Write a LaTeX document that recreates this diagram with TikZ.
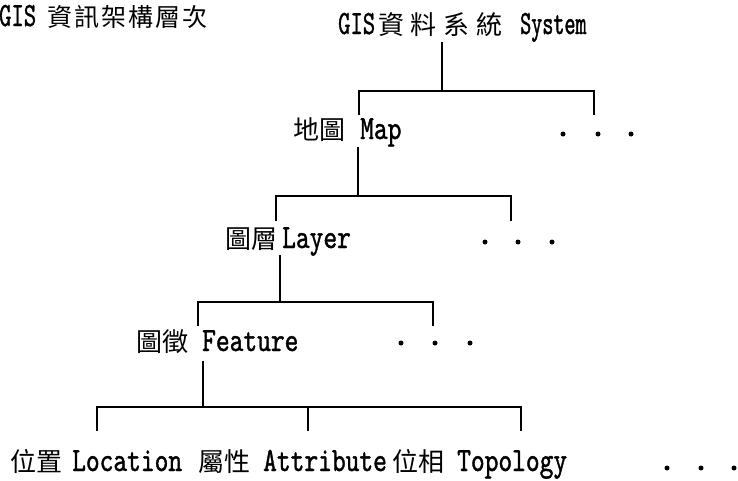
\documentclass[tikz,border=0pt]{standalone}
\usepackage{fontspec}
\newfontfamily\cjk{Noto Sans CJK TC}
\newfontfamily\cjkwide[LetterSpace=8]{Noto Sans CJK TC}
\newfontfamily\cjkwider[LetterSpace=26]{Noto Sans CJK TC}
\newfontfamily\lat[Extension=.otf, FakeStretch=0.77, FakeBold=1.1]{lmmono10-regular}
\newfontfamily\latmid[Extension=.otf, FakeStretch=0.69, FakeBold=1.1]{lmmono10-regular}
\newfontfamily\latnarrow[Extension=.otf, FakeStretch=0.62, FakeBold=1.1]{lmmono10-regular}
\tikzset{
  zh/.style={anchor=base west, inner sep=0pt, font=\cjk\fontsize{26}{26}\selectfont},
  en/.style={anchor=base west, inner sep=0pt, font=\lat\fontsize{34}{34}\selectfont},
  link/.style={line width=1.4pt, line cap=rect, line join=miter},
  dot/.style={circle, fill=black, inner sep=0pt, minimum size=5pt}
}
\begin{document}
\begin{tikzpicture}[x=1pt, y=-1pt]
\useasboundingbox (0,0) rectangle (738,480);

% heading
\node[en, font=\latmid\fontsize{34}{34}\selectfont] (title-en) at (-1,26) {GIS};
\node[zh, font=\cjkwide\fontsize{25}{25}\selectfont] (title-zh) at (47,26) {資訊架構層次};

% level 0: system
\node[en, font=\latmid\fontsize{34}{34}\selectfont] (sys-gis) at (338,34) {GIS};
\node[zh, font=\cjkwider\fontsize{26}{26}\selectfont] (sys-zh) at (378,34) {資料系統};
\node[en, font=\latnarrow\fontsize{34}{34}\selectfont] (sys-en) at (520,34) {System};

% level 1: map
\node[zh] (map-zh) at (293,139) {地圖};
\node[en] (map-en) at (360,139) {Map};
\node[dot] (map-d1) at (563,134) {};
\node[dot] (map-d2) at (598,134) {};
\node[dot] (map-d3) at (631,134) {};

% level 2: layer
\node[zh] (lay-zh) at (225,248) {圖層};
\node[en] (lay-en) at (282,248) {Layer};
\node[dot] (lay-d1) at (485,242) {};
\node[dot] (lay-d2) at (518,242) {};
\node[dot] (lay-d3) at (552,242) {};

% level 3: feature
\node[zh] (fea-zh) at (136,351) {圖徵};
\node[en] (fea-en) at (202,351) {Feature};
\node[dot] (fea-d1) at (401,343) {};
\node[dot] (fea-d2) at (435,343) {};
\node[dot] (fea-d3) at (470,343) {};

% level 4: feature components
\node[zh] (loc-zh) at (10,471) {位置};
\node[en] (loc-en) at (72,471) {Location};
\node[zh] (att-zh) at (198,471) {屬性};
\node[en] (att-en) at (263,471) {Attribute};
\node[zh] (top-zh) at (392,471) {位相};
\node[en] (top-en) at (457,471) {Topology};
\node[dot] (cmp-d1) at (667,468) {};
\node[dot] (cmp-d2) at (701,468) {};
\node[dot] (cmp-d3) at (734,468) {};

% branch points
\coordinate (sys-foot) at (442,43);
\coordinate (sys-fork) at (442,91);
\coordinate (sys-l)    at (359,91);
\coordinate (sys-r)    at (594,91);
\coordinate (map-top)  at (359,114);
\coordinate (more1-top) at (594,114);

\coordinate (map-foot) at (358,148);
\coordinate (map-fork) at (358,196);
\coordinate (map-l)    at (276,196);
\coordinate (map-r)    at (511,196);
\coordinate (lay-top)  at (276,220);
\coordinate (more2-top) at (511,220);

\coordinate (lay-foot) at (280,256);
\coordinate (lay-fork) at (280,302);
\coordinate (lay-l)    at (198,302);
\coordinate (lay-r)    at (433,302);
\coordinate (fea-top)  at (198,325);
\coordinate (more3-top) at (433,325);

\coordinate (fea-foot) at (203,362);
\coordinate (fea-fork) at (203,407);
\coordinate (fea-l)    at (97,407);
\coordinate (fea-m)    at (308,407);
\coordinate (fea-r)    at (521,407);
\coordinate (loc-top)  at (97,430);
\coordinate (att-top)  at (308,430);
\coordinate (top-top)  at (521,430);

% connectors
\draw[link] (sys-foot) -- (sys-fork);
\draw[link] (map-top) -- (sys-l) -- (sys-r) -- (more1-top);

\draw[link] (map-foot) -- (map-fork);
\draw[link] (lay-top) -- (map-l) -- (map-r) -- (more2-top);

\draw[link] (lay-foot) -- (lay-fork);
\draw[link] (fea-top) -- (lay-l) -- (lay-r) -- (more3-top);

\draw[link] (fea-foot) -- (fea-fork);
\draw[link] (loc-top) -- (fea-l) -- (fea-r) -- (top-top);
\draw[link] (fea-m) -- (att-top);
\end{tikzpicture}
\end{document}
